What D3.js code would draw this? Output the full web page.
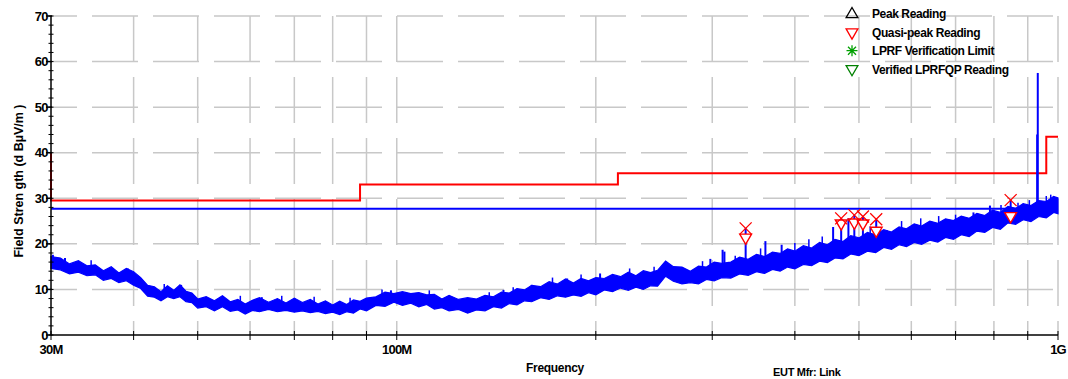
<!DOCTYPE html>
<html><head><meta charset="utf-8">
<script src="https://cdn.jsdelivr.net/npm/d3@7"></script>
<style>
html,body{margin:0;padding:0;background:#fff;}
svg text{font-family:"Liberation Sans",Arial,sans-serif;font-weight:bold;fill:#000;}
</style></head>
<body><svg id="c" width="1068" height="379"></svg>
<script>
// ---- data ----
const yTicks = [0,10,20,30,40,50,60,70];
const xLabelFreqs = [30,100,1000];
const xLabelTexts = ["30M","100M","1G"];
const gridFreqs = [40,50,60,70,80,90,100,200,300,400,500,600,700,800,900,1000];

const limitFreq  = [30, 30, 88, 216, 960, 1000];
const limitLevel = [40, 29.5, 33, 35.5, 43.5, 43.5];
const marginLine = 27.7;

const traceFreq = [30,31,32,33,34,35,36,37,38,39,40,41,42,43,44,45,46,47,48,49,50,51.5,53,54.5,56,57.5,59,60.5,62,64,66,68,70,72,74,76,78,80,82,84,86,88,90,93,96,99,102,105,108,111,114,117,120,124,128,132,136,140,144,148,152,156,160,165,170,175,180,185,190,195,200,206,212,218,224,230,236,242,248,255,262,270,278,286,294,302,310,320,330,340,350,360,370,380,390,400,412,424,436,448,460,473,486,500,515,530,545,560,575,590,606,622,640,658,676,695,714,734,754,775,796,818,840,863,886,910,935,960,985,1000];
const traceHigh = [17.2,16.9,15.6,16.3,15.2,15.4,14.1,15.0,13.6,14.6,13.9,12.6,10.9,10.6,9.5,10.8,9.8,11.0,9.6,9.2,7.9,8.4,7.5,8.6,7.3,7.8,6.8,7.6,8.2,7.2,8.0,7.0,8.1,7.1,7.8,6.8,7.5,6.6,7.4,6.7,7.7,7.4,8.1,8.4,9.4,9.1,9.5,9.1,9.3,8.8,8.9,7.9,8.7,7.8,8.2,7.9,8.7,8.4,9.4,9.2,10.2,9.9,10.9,10.6,11.7,11.2,12.3,11.4,12.4,11.9,12.6,12.4,13.3,12.8,13.8,13.0,14.1,13.7,14.2,16.2,15.0,14.9,14.0,15.1,14.9,16.0,15.7,16.0,17.1,16.6,17.7,17.2,18.2,17.9,18.9,18.4,19.6,19.1,20.3,19.8,21.0,20.5,21.8,21.3,22.5,22.0,23.1,22.6,23.7,23.3,24.4,23.9,25.0,24.5,25.5,25.1,26.1,25.6,26.7,26.2,27.4,26.9,28.2,27.8,28.8,28.4,29.5,29.3,30.4,30.1];
const traceLow  = [14.6,14.3,13.4,13.8,13.0,13.2,12.0,12.4,11.5,11.9,10.9,10.2,8.5,8.3,7.5,8.4,8.0,8.4,7.3,7.1,5.9,6.2,5.3,6.2,5.2,5.5,4.6,5.4,5.1,5.6,5.1,5.4,5.0,5.3,4.9,5.2,4.7,5.0,4.5,5.1,4.8,5.7,5.3,6.5,6.3,7.2,6.5,7.0,6.2,6.7,5.7,6.0,5.3,5.6,4.8,5.5,5.3,6.2,5.9,6.9,6.6,7.5,7.3,8.2,7.8,8.6,8.3,8.8,8.5,9.3,8.8,9.9,9.5,10.3,9.8,10.5,10.0,10.8,10.7,12.9,11.8,11.2,11.5,11.2,12.2,11.9,12.6,12.5,13.4,13.1,13.9,13.5,14.4,14.0,14.9,14.5,15.5,15.2,16.2,15.9,16.9,16.7,17.8,17.4,18.4,18.1,19.2,18.8,19.8,19.4,20.3,19.9,20.8,20.4,21.4,21.0,22.0,21.6,22.8,22.5,23.6,23.2,24.6,24.3,25.3,24.9,26.0,25.7,26.9,26.6];

const spikeFreq = [30.2,31.5,39.2,47.2,62.5,98,145,160,181,203,298,311,313,337,361,382,457,470,482,492,507,531,551,745,789,848,885,930,932];
const spikeTop  = [17.6,16.9,14.6,11.0,8.3,9.8,9.9,11.0,12.4,13.5,16.7,18.7,18.3,23.4,20.6,19.8,23.7,25.6,25.6,26.3,26.0,25.4,23.0,26.9,28.4,29.6,28.8,44.0,57.5];
const spikeBase = [15,14,12,8.5,6,7.5,7,8,9.5,10.5,13,14,14,15,16,16,18,18,18.5,19,19,20,20,24,25,26,27,27,27];

const grassFreq = [34.5,44.5,58,67,75,85,95,112,138,150,172,190,225,245,290,325,355,400,420,440,520,580,620,660,700,820,870,905,960,975];
const grassTop  = [16.4,11.2,8.6,8.6,8.4,8.2,10.0,9.8,9.4,10.5,12.6,13.3,14.6,15.0,16.2,17.4,19.0,20.2,21.0,21.6,23.8,25.0,25.6,26.1,26.4,28.5,29.0,29.6,30.5,30.8];
const grassBase = [14,9,6,6,6,6,7.5,7.5,7,8,9.5,10,11,12,13,14,15,16,17,17,19.5,21,21.5,22,22.5,25,25.5,26,27,27];

const qpFreq    = [337,470,492,507,531,848];
const peakLevel = [23.4,25.6,26.3,26.0,25.4,29.6];
const qpLevel   = [21.4,24.5,24.7,24.5,22.9,26.1];

const legendLabels = ["Peak Reading","Quasi-peak Reading","LPRF Verification Limit","Verified LPRFQP Reading"];

// ---- drawing ----
const svg = d3.select("#c");
const x = d3.scaleLog().domain([30,1000]).range([51,1058]);
const y = d3.scaleLinear().domain([0,70]).range([335,16]);
const [x0,x1] = x.range(), [yb,yt] = y.range();

// grid
const g = svg.append("g").attr("stroke","#c8c8c8").attr("stroke-width",1.5).attr("fill","none");
g.selectAll("line.h").data(yTicks.filter(d=>d>0)).join("line")
  .attr("x1",x0).attr("x2",x1).attr("y1",d=>y(d)).attr("y2",d=>y(d))
  .attr("stroke-dasharray","46,15").attr("stroke-dashoffset",20);
g.selectAll("line.v").data(gridFreqs).join("line")
  .attr("x1",d=>x(d)).attr("x2",d=>x(d)).attr("y1",yt).attr("y2",yb)
  .attr("stroke-dasharray","46,15");

// blue margin line
svg.append("line").attr("x1",x0).attr("x2",x1).attr("y1",y(marginLine)).attr("y2",y(marginLine))
  .attr("stroke","#0000ff").attr("stroke-width",2);

// red limit
svg.append("path").datum(d3.zip(limitFreq,limitLevel))
  .attr("d",d3.line().x(d=>x(d[0])).y(d=>y(d[1])).curve(d3.curveStepAfter))
  .attr("fill","none").attr("stroke","#ff0000").attr("stroke-width",2);

// trace band
const tr = traceFreq.map((f,i)=>({f,h:traceHigh[i],l:traceLow[i]}));
svg.append("path").datum(tr)
  .attr("d",d3.area().x(d=>x(d.f)).y0(d=>y(d.l)).y1(d=>y(d.h)))
  .attr("fill","#0000ff").attr("stroke","#0000ff").attr("stroke-width",1.2).attr("stroke-linejoin","miter");

// grass + spikes
svg.append("g").selectAll("line").data(d3.zip(grassFreq,grassTop,grassBase)).join("line")
  .attr("x1",d=>x(d[0])).attr("x2",d=>x(d[0])).attr("y1",d=>y(d[2])).attr("y2",d=>y(d[1]))
  .attr("stroke","#0000ff").attr("stroke-width",1.5);
svg.append("g").selectAll("line").data(d3.zip(spikeFreq,spikeTop,spikeBase)).join("line")
  .attr("x1",d=>x(d[0])).attr("x2",d=>x(d[0])).attr("y1",d=>y(d[2])).attr("y2",d=>y(d[1]))
  .attr("stroke","#0000ff").attr("stroke-width",2);

// markers
const mk = svg.append("g");
const tri = d3.symbol().type(d3.symbolTriangle).size(60);
d3.zip(qpFreq,peakLevel,qpLevel).forEach(([f,p,q])=>{
  const cx = x(f);
  mk.append("path").attr("d",tri()).attr("transform",`translate(${cx},${y(q)}) rotate(180)`)
    .attr("fill","#fff").attr("stroke","#ff0000").attr("stroke-width",1.4);
  const cy = y(p), s = 6;
  mk.append("path").attr("d",`M${cx-s},${cy-s}L${cx+s},${cy+s}M${cx-s},${cy+s}L${cx+s},${cy-s}`)
    .attr("stroke","#ff0000").attr("stroke-width",1.3).attr("fill","none");
});

// axes
const ax = svg.append("g");
ax.append("line").attr("x1",x0).attr("x2",x0).attr("y1",yt).attr("y2",yb).attr("stroke","#000").attr("stroke-width",1.5);
ax.append("line").attr("x1",x0).attr("x2",x1).attr("y1",yb).attr("y2",yb).attr("stroke","#000").attr("stroke-width",1.5);
const minorY = d3.range(0,71,2);
ax.selectAll("line.my").data(minorY).join("line")
  .attr("x1",x0-2.5).attr("x2",x0+2.5).attr("y1",d=>y(d)).attr("y2",d=>y(d)).attr("stroke","#000").attr("stroke-width",1);
ax.selectAll("line.My").data(yTicks).join("line")
  .attr("x1",x0-5).attr("x2",x0+1).attr("y1",d=>y(d)).attr("y2",d=>y(d)).attr("stroke","#000").attr("stroke-width",1.5);
ax.selectAll("text.yt").data(yTicks).join("text")
  .attr("x",x0-3).attr("y",d=>y(d)+4.5).attr("text-anchor","end")
  .style("font-size","13px").style("letter-spacing","-0.6px").text(d=>d);
ax.selectAll("line.xt").data([30].concat(gridFreqs)).join("line")
  .attr("x1",d=>x(d)).attr("x2",d=>x(d)).attr("y1",yb-4).attr("y2",yb+5).attr("stroke","#000").attr("stroke-width",1);
ax.selectAll("text.xt").data(d3.zip(xLabelFreqs,xLabelTexts)).join("text")
  .attr("x",d=>x(d[0])).attr("y",yb+19).attr("text-anchor","middle")
  .style("font-size","13px").style("letter-spacing","-0.8px").text(d=>d[1]);

svg.append("text").attr("x",555).attr("y",372).attr("text-anchor","middle")
  .style("font-size","12px").style("letter-spacing","-0.3px").text("Frequency");
svg.append("text").attr("transform","translate(23,181) rotate(-90)").attr("text-anchor","middle")
  .style("font-size","12.5px").text("Field Stren gth (d BµV/m )");
svg.append("text").attr("x",773).attr("y",376)
  .style("font-size","11px").style("letter-spacing","-0.3px").text("EUT Mfr: Link");

// legend
const lg = svg.append("g");
const rows = [13.3,32.3,50.7,69];
const sx = 852;
lg.append("path").attr("d",tri()).attr("transform",`translate(${sx},${rows[0]+1})`)
  .attr("fill","none").attr("stroke","#000").attr("stroke-width",1.3);
lg.append("path").attr("d",tri()).attr("transform",`translate(${sx},${rows[1]}) rotate(180)`)
  .attr("fill","none").attr("stroke","#ff0000").attr("stroke-width",1.3);
{ const c=rows[2], s=5.5;
  lg.append("path").attr("d",`M${sx-s},${c}L${sx+s},${c}M${sx},${c-s}L${sx},${c+s}M${sx-4},${c-4}L${sx+4},${c+4}M${sx-4},${c+4}L${sx+4},${c-4}`)
    .attr("stroke","#00a000").attr("stroke-width",1.3); }
lg.append("path").attr("d",tri()).attr("transform",`translate(${sx},${rows[3]}) rotate(180)`)
  .attr("fill","none").attr("stroke","#008000").attr("stroke-width",1.3);
lg.selectAll("text").data(legendLabels).join("text")
  .attr("x",872).attr("y",(d,i)=>rows[i]+4.5)
  .style("font-size","12px").style("letter-spacing","-0.4px").text(d=>d);
</script></body></html>
